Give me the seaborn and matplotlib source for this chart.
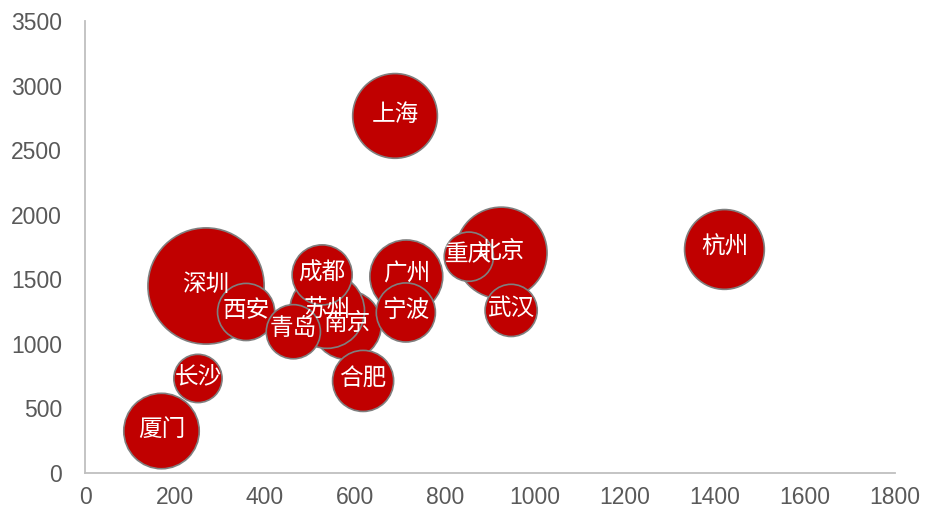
import matplotlib
matplotlib.use("Agg")
import matplotlib.pyplot as plt
import seaborn as sns
import pandas as pd

# Data (drawing order matters for overlaps)
cities = ["深圳", "北京", "上海", "杭州", "厦门", "广州", "南京", "苏州",
          "合肥", "成都", "宁波", "西安", "青岛", "武汉", "重庆", "长沙"]
x_vals = [269, 925, 689, 1421, 170, 714, 582, 538,
          618, 527, 713, 358, 463, 947, 853, 251]
y_vals = [1448, 1704, 2765, 1731, 325, 1522, 1146, 1255,
          713, 1534, 1243, 1247, 1094, 1259, 1675, 732]
bubble = [3481, 2162, 1849, 1640, 1467, 1369, 1225, 1444,
          961, 930, 900, 841, 756, 702, 625, 600]

x_ticks = [0, 200, 400, 600, 800, 1000, 1200, 1400, 1600, 1800]
y_ticks = [0, 500, 1000, 1500, 2000, 2500, 3000, 3500]

df = pd.DataFrame({"city": cities, "x": x_vals, "y": y_vals, "b": bubble})

sns.set_theme(style="white")
plt.rcParams["font.family"] = ["Noto Sans CJK SC", "DejaVu Sans"]

DPI = 100
fig = plt.figure(figsize=(9.26, 5.12), dpi=DPI)
ax = fig.add_axes([85 / 926, 39 / 512, 810 / 926, 452 / 512])

k = (2 * 72 / DPI) ** 2 * 0.97
sns.scatterplot(data=df, x="x", y="y", size="b",
                sizes=(k * min(bubble), k * max(bubble)),
                size_norm=(min(bubble), max(bubble)),
                color="#C00000", edgecolor="#7F7F7F", linewidth=1.2,
                alpha=1, legend=False, ax=ax, zorder=2)

for c, xv, yv in zip(cities, x_vals, y_vals):
    ax.text(xv, yv + 15, c, color="white", fontsize=17, ha="center", va="center",
            family=["Noto Sans CJK SC", "DejaVu Sans"], zorder=5)

ax.set_xlim(0, 1800)
ax.set_ylim(0, 3500)
ax.set_xticks(x_ticks)
ax.set_yticks(y_ticks)
ax.set_xticklabels([str(t) for t in x_ticks], family="Liberation Sans",
                   fontsize=16.5, color="#595959")
ax.set_yticklabels([str(t) for t in y_ticks], family="Liberation Sans",
                   fontsize=16.5, color="#595959")
ax.tick_params(axis="both", length=0)
ax.tick_params(axis="x", pad=9)
ax.tick_params(axis="y", pad=16.5)
ax.set_xlabel("")
ax.set_ylabel("")

for s in ["top", "right"]:
    ax.spines[s].set_visible(False)
for s in ["left", "bottom"]:
    ax.spines[s].set_color("#BFBFBF")
    ax.spines[s].set_linewidth(1.3)

fig.savefig("out.png", dpi=DPI)
